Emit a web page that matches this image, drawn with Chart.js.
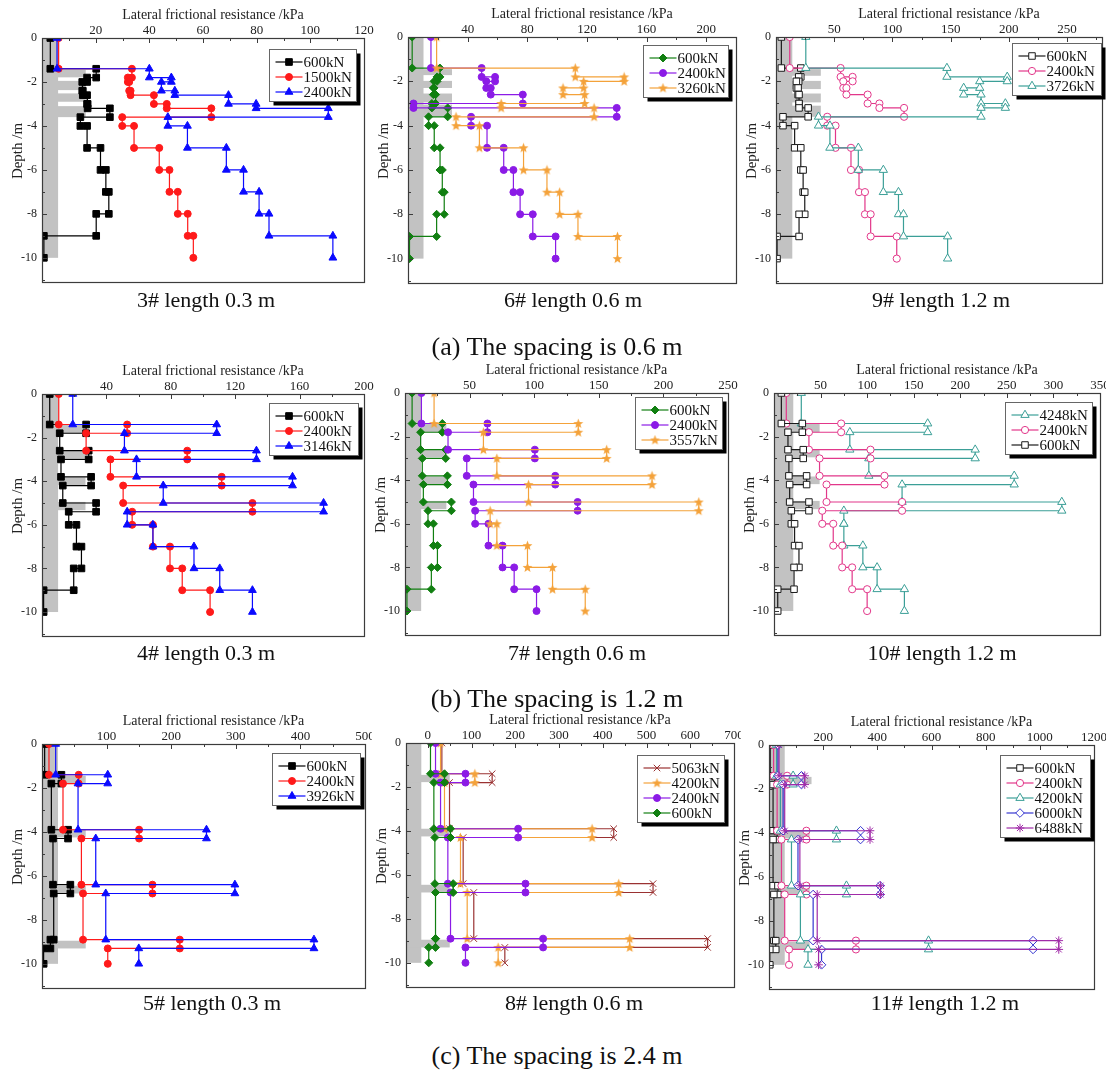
<!DOCTYPE html>
<html>
<head>
<meta charset="utf-8">
<title>Lateral frictional resistance profiles</title>
<script src="https://cdn.jsdelivr.net/npm/chart.js@4.4.1/dist/chart.umd.min.js"></script>
<style>
  html, body { margin: 0; padding: 0; background: #fff; }
  #page { position: relative; width: 1106px; height: 1077px; overflow: hidden; background: #fff;
          font-family: 'Liberation Serif', 'Times New Roman', serif; color: #111; }
  .panel { position: absolute; overflow: hidden; }
  .panel canvas { display: block; }
  .cap { position: absolute; width: 400px; text-align: center; line-height: 1; white-space: nowrap; }
</style>
</head>
<body>
<div id="page"></div>
<script>
const SERIF = "'Liberation Serif', 'Times New Roman', serif";

// depth breakpoints (m) of the measured layers
const D_A1 = [0, -1.4, -1.8, -2.0, -2.4, -2.6, -3.0, -3.2, -3.6, -4, -5, -6, -7, -8, -9, -10];
const D_A23 = [0, -1.4, -1.8, -2.0, -2.3, -2.6, -3.0, -3.2, -3.6, -4, -5, -6, -7, -8, -9, -10];
const D_B = [0, -1.4, -1.8, -2.6, -3.0, -3.8, -4.2, -5.0, -5.4, -6, -7, -8, -9, -10];
const D_C = [0, -1.4, -1.8, -3.9, -4.3, -6.4, -6.8, -8.9, -9.3, -10];

// lateral frictional resistance per layer (kPa)
// (a) spacing 0.6 m
const PILE3_600 = [3.1, 20.2, 16.8, 15.0, 15.2, 16.8, 17.0, 25.3, 14.3, 16.8, 21.8, 23.8, 24.9, 20.2, 0.7];
const PILE3_1500 = [6.2, 33.5, 32.0, 32.5, 33.0, 41.7, 46.5, 63.1, 29.9, 34.3, 43.7, 47.5, 50.6, 54.3, 56.4];
const PILE3_2400 = [5.6, 40.0, 48.2, 44.5, 49.5, 69.5, 79.8, 106.7, 46.9, 54.2, 68.7, 75.1, 80.9, 84.6, 108.4];

const PILE6_600 = [2.8, 21.4, 19.5, 17.5, 17.0, 18.5, 16.0, 26.6, 13.8, 17.6, 21.5, 23.0, 24.3, 19.2, 1.0];
const PILE6_2400 = [15.4, 49.4, 58.4, 52.5, 55.5, 77.0, 3.7, 140.0, 42.3, 53.0, 64.2, 70.7, 75.2, 83.7, 99.0];
const PILE6_3260 = [19.2, 112.2, 145.0, 117.8, 104.0, 118.5, 62.5, 124.8, 32.2, 47.9, 77.5, 93.2, 101.7, 114.0, 140.5];

const PILE9_600 = [4.6, 21.3, 19.5, 17.5, 19.0, 19.8, 19.8, 27.6, 6.0, 16.0, 21.3, 23.3, 24.7, 19.8, 0.9];
const PILE9_2400 = [11.8, 55.5, 65.8, 57.8, 60.5, 78.7, 88.8, 110.0, 44.0, 51.1, 64.4, 71.3, 76.4, 81.3, 103.7];
const PILE9_3726 = [25.6, 146.8, 198.6, 175.0, 161.2, 176.1, 197.0, 176.1, 36.5, 46.3, 70.7, 92.2, 105.2, 109.5, 147.4];

// (b) spacing 1.2 m
const PILE4_600 = [4.8, 27.4, 11.0, 29.0, 11.8, 30.5, 12.9, 33.6, 16.6, 21.4, 24.5, 19.7, 1.0];
const PILE4_2400 = [10.4, 52.9, 27.4, 90.2, 42.5, 111.6, 50.4, 130.7, 56.0, 68.9, 79.5, 87.1, 104.4];
const PILE4_3146 = [19.1, 108.5, 51.2, 133.2, 58.7, 155.6, 75.3, 174.9, 52.9, 68.9, 94.4, 110.4, 130.7];

const PILE7_600 = [5.5, 28.9, 12.1, 31.5, 13.4, 32.8, 14.2, 35.9, 17.8, 22.0, 25.1, 20.4, 1.5];
const PILE7_2400 = [12.7, 63.8, 33.3, 100.5, 47.8, 116.3, 53.0, 133.6, 54.3, 64.6, 75.5, 84.5, 101.8];
const PILE7_3557 = [22.5, 134.1, 60.7, 156.1, 71.1, 191.2, 95.6, 227.4, 65.9, 71.1, 94.8, 114.2, 139.5];

const PILE10_4248 = [29.3, 165.0, 81.4, 216.0, 101.8, 257.9, 137.5, 309.0, 75.0, 75.0, 95.4, 110.7, 140.0];
const PILE10_2400 = [13.2, 72.1, 37.5, 103.6, 48.9, 118.6, 56.4, 137.5, 51.8, 63.6, 73.2, 83.9, 100.0];
const PILE10_600 = [7.9, 30.4, 15.0, 31.4, 16.0, 35.0, 16.8, 37.5, 18.6, 22.1, 26.8, 21.5, 4.0];

// (c) spacing 2.4 m
const PILE5_600 = [4.1, 30.0, 14.5, 40.3, 17.0, 43.9, 18.1, 13.0, 2.5];
const PILE5_2400 = [10.8, 56.8, 32.5, 150.3, 61.0, 171.0, 63.5, 213.3, 101.8];
const PILE5_3926 = [21.2, 101.8, 55.8, 254.6, 83.2, 298.6, 98.7, 421.0, 149.8];

const PILE8_5063 = [32.0, 147.0, 49.5, 425.0, 80.7, 514.9, 105.0, 639.7, 176.0];
const PILE8_4200 = [29.0, 107.4, 38.0, 375.5, 74.6, 436.4, 89.9, 461.5, 160.7];
const PILE8_2400 = [17.5, 86.0, 29.0, 206.4, 45.7, 223.2, 51.8, 263.5, 86.0];
const PILE8_600 = [6.0, 38.0, 13.7, 51.8, 16.0, 57.9, 17.5, 17.5, 2.0];

const PILE11_600 = [4.5, 21.0, 15.0, 30.0, 15.0, 33.0, 18.0, 25.0, 3.0];
const PILE11_2400 = [17.0, 67.0, 30.0, 138.0, 46.0, 138.0, 58.0, 321.0, 74.0];
const PILE11_4200 = [28.0, 89.0, 42.0, 249.0, 83.0, 286.0, 116.0, 589.0, 144.0];
const PILE11_6000 = [33.0, 120.0, 52.0, 338.0, 107.0, 410.0, 163.0, 975.0, 194.0];
const PILE11_6488 = [37.0, 132.0, 58.0, 373.0, 114.0, 412.0, 178.0, 1070.0, 183.0];

// pile body shading: [x from, x to, depth top, depth bottom]
const PILE3_SHADE = [[0, 6, 0, -10], [0, 16.3, -1.45, -1.79], [0, 16.3, -1.95, -2.37], [0, 16.3, -2.52, -2.9], [0, 16.3, -3.1, -3.6]];
const PILE6_SHADE = [[0, 10.4, 0, -10], [0, 29.5, -1.45, -1.72], [0, 29.5, -1.98, -2.3], [0, 29.5, -2.55, -2.95], [0, 29.5, -3.05, -3.6]];
const PILE9_SHADE = [[0, 14, 0, -10], [0, 38.5, -1.45, -1.75], [0, 38.5, -1.98, -2.35], [0, 38.5, -2.55, -2.95], [0, 38.5, -3.1, -3.6]];
const PILE4_SHADE = [[0, 10, 0, -10], [0, 27, -1.42, -1.8], [0, 27, -2.57, -2.95], [0, 27, -3.83, -4.18], [0, 27, -4.95, -5.33]];
const PILE7_SHADE = [[0, 12.5, 0, -10], [0, 32, -1.42, -1.8], [0, 32, -2.57, -2.95], [0, 32, -3.83, -4.18], [0, 32, -4.95, -5.33]];
const PILE10_SHADE = [[0, 20.7, 0, -10], [0, 49, -1.42, -1.8], [0, 49, -2.57, -2.95], [0, 49, -3.83, -4.18], [0, 49, -4.95, -5.33]];
const PILE5_SHADE = [[0, 24.8, 0, -10], [0, 67.7, -1.45, -1.78], [0, 67.7, -3.9, -4.25], [0, 67.7, -6.45, -6.8], [0, 67.7, -8.95, -9.3]];
const PILE8_SHADE = [[-50, -15, 0, -10], [-50, 50, -1.45, -1.78], [-50, 50, -3.9, -4.25], [-50, 50, -6.45, -6.8], [-50, 50, -8.95, -9.3]];
const PILE11_SHADE = [[0, 58, 0, -10], [0, 157, -1.45, -1.78], [0, 150, -3.9, -4.25], [0, 150, -6.45, -6.8], [0, 150, -8.95, -9.3]];

const X_TITLE = 'Lateral frictional resistance /kPa';
const Y_TITLE = 'Depth /m';
const Y_MIN = -11.1;
const PAD_L = 42, PAD_T = 40, PAD_R = 16, PAD_B = 14;

function makeStar(color) {
  const c = document.createElement('canvas');
  c.width = 11; c.height = 11;
  const g = c.getContext('2d');
  g.fillStyle = color;
  g.beginPath();
  for (let i = 0; i < 10; i++) {
    const r = i % 2 ? 2.2 : 5.2;
    const a = -Math.PI / 2 + i * Math.PI / 5;
    g.lineTo(5.5 + r * Math.cos(a), 5.8 + r * Math.sin(a));
  }
  g.closePath();
  g.fill();
  return c;
}

const ORANGE = '#f4a23a';
const MK = {
  blackSq: { color: '#000000', style: 'rect', r: 4.7 },
  redDot: { color: '#ff1a1a', style: 'circle', r: 3.5 },
  blueTri: { color: '#0a0aff', style: 'triangle', r: 4.5 },
  greenDia: { color: '#117f11', style: 'rectRot', r: 4.0 },
  violetDot: { color: '#8b1be6', style: 'circle', r: 3.5 },
  orangeStar: { color: ORANGE, style: makeStar(ORANGE), r: 5 },
  blackSqO: { color: '#1a1a1a', style: 'rect', r: 4.6, open: true },
  pinkDotO: { color: '#e2378a', style: 'circle', r: 3.6, open: true },
  tealTriO: { color: '#3b9f97', style: 'triangle', r: 4.8, open: true },
  blueDiaO: { color: '#3636d0', style: 'rectRot', r: 4.3, open: true },
  magStar: { color: '#a02ba8', style: 'star', r: 4.3 },
  brownX: { color: '#9a3232', style: 'crossRot', r: 4.6 },
};

const PANELS = [
  { box: [42, 38, 364, 282], xMin: 0, xMax: 120, xStep: 20, depths: D_A1, shade: PILE3_SHADE, legend: [8, 11, 87],
    series: [['600kN', PILE3_600, MK.blackSq], ['1500kN', PILE3_1500, MK.redDot], ['2400kN', PILE3_2400, MK.blueTri]] },
  { box: [408, 37, 736, 283], xMin: 0, xMax: 220, xStep: 40, depths: D_A23, shade: PILE6_SHADE, legend: [8, 8, 85],
    series: [['600kN', PILE6_600, MK.greenDia], ['2400kN', PILE6_2400, MK.violetDot], ['3260kN', PILE6_3260, MK.orangeStar]] },
  { box: [776, 37, 1102, 283], xMin: 0, xMax: 280, xStep: 50, depths: D_A23, shade: PILE9_SHADE, legend: [1, 6, 89],
    series: [['600kN', PILE9_600, MK.blackSqO], ['2400kN', PILE9_2400, MK.pinkDotO], ['3726kN', PILE9_3726, MK.tealTriO]] },
  { box: [42, 394, 364, 636], xMin: 0, xMax: 200, xStep: 40, depths: D_B, shade: PILE4_SHADE, legend: [6, 9, 89],
    series: [['600kN', PILE4_600, MK.blackSq], ['2400kN', PILE4_2400, MK.redDot], ['3146kN', PILE4_3146, MK.blueTri]] },
  { box: [405, 393, 728, 635], xMin: 0, xMax: 250, xStep: 50, depths: D_B, shade: PILE7_SHADE, legend: [6, 4, 87],
    series: [['600kN', PILE7_600, MK.greenDia], ['2400kN', PILE7_2400, MK.violetDot], ['3557kN', PILE7_3557, MK.orangeStar]] },
  { box: [774, 393, 1100, 635], xMin: 0, xMax: 350, xStep: 50, depths: D_B, shade: PILE10_SHADE, legend: [8, 9, 87],
    series: [['4248kN', PILE10_4248, MK.tealTriO], ['2400kN', PILE10_2400, MK.pinkDotO], ['600kN', PILE10_600, MK.blackSqO]] },
  { box: [42, 744, 365, 988], xMin: 0, xMax: 500, xStep: 100, depths: D_C, shade: PILE5_SHADE, legend: [5, 9, 88], clip: 372,
    series: [['600kN', PILE5_600, MK.blackSq], ['2400kN', PILE5_2400, MK.redDot], ['3926kN', PILE5_3926, MK.blueTri]] },
  { box: [406, 743, 734, 987], xMin: -50, xMax: 700, xStep: 100, depths: D_C, shade: PILE8_SHADE, legend: [10, 12, 87], clip: 741,
    series: [['5063kN', PILE8_5063, MK.brownX], ['4200kN', PILE8_4200, MK.orangeStar], ['2400kN', PILE8_2400, MK.violetDot], ['600kN', PILE8_600, MK.greenDia]] },
  { box: [769, 745, 1094, 989], xMin: 0, xMax: 1200, xStep: 200, depths: D_C, shade: PILE11_SHADE, legend: [4, 10, 90],
    series: [['600kN', PILE11_600, MK.blackSqO], ['2400kN', PILE11_2400, MK.pinkDotO], ['4200kN', PILE11_4200, MK.tealTriO], ['6000kN', PILE11_6000, MK.blueDiaO], ['6488kN', PILE11_6488, MK.magStar]] },
];

const CAPTIONS = [
  ['3# length 0.3 m', 206, 307.5], ['6# length 0.6 m', 573, 307.5], ['9# length 1.2 m', 941, 307.5],
  ['4# length 0.3 m', 206, 660], ['7# length 0.6 m', 577, 660], ['10# length 1.2 m', 942, 660],
  ['5# length 0.3 m', 212, 1010], ['8# length 0.6 m', 574, 1010], ['11# length 1.2 m', 945, 1010],
];
const FIG_CAPTIONS = [
  ['(a) The spacing is 0.6 m', 557, 356], ['(b) The spacing is 1.2 m', 557, 708], ['(c) The spacing is 2.4 m', 557, 1065],
];

// step profile: each layer value spans its top and bottom depth
function profile(depths, q) {
  const pts = [];
  q.forEach((v, i) => {
    pts.push({ x: v, y: depths[i] }, { x: v, y: depths[i + 1] });
  });
  return pts;
}

function drawMarker(ctx, m, x, y) {
  ctx.save();
  ctx.fillStyle = m.open ? '#fff' : m.color;
  ctx.strokeStyle = m.color;
  ctx.lineWidth = 1;
  if (Chart.helpers && Chart.helpers.drawPoint) {
    Chart.helpers.drawPoint(ctx, { pointStyle: m.style, radius: m.r, rotation: 0, borderWidth: 1 }, x, y);
  } else {
    ctx.beginPath(); ctx.arc(x, y, m.r, 0, Math.PI * 2); ctx.fill(); ctx.stroke();
  }
  ctx.restore();
}

function panelPlugin(p) {
  return {
    id: 'panelDecor',
    beforeDatasetsDraw(chart) {
      const { ctx, chartArea: a, scales: { x, y } } = chart;
      ctx.save();
      ctx.beginPath();
      ctx.rect(a.left, a.top, a.right - a.left, a.bottom - a.top);
      ctx.clip();
      ctx.fillStyle = '#c2c2c2';
      p.shade.forEach(([x0, x1, d0, d1]) => {
        const px0 = x.getPixelForValue(x0), px1 = x.getPixelForValue(x1);
        const py0 = y.getPixelForValue(d0), py1 = y.getPixelForValue(d1);
        ctx.fillRect(px0, py0, px1 - px0, py1 - py0);
      });
      ctx.restore();
    },
    afterDraw(chart) {
      const { ctx, chartArea: a, scales: { x, y } } = chart;
      ctx.save();
      // axis titles (the top one sits a little right of centre, as in the source)
      ctx.fillStyle = '#222';
      ctx.textAlign = 'center';
      ctx.textBaseline = 'middle';
      ctx.font = `14px ${SERIF}`;
      ctx.fillText(X_TITLE, (a.left + a.right) / 2 + 10, a.top - 23);
      ctx.save();
      ctx.translate(a.left - 24, (a.top + a.bottom) / 2 - 9);
      ctx.rotate(-Math.PI / 2);
      ctx.font = `15px ${SERIF}`;
      ctx.fillText(Y_TITLE, 0, 0);
      ctx.restore();

      // frame
      ctx.strokeStyle = '#3c3c3c';
      ctx.lineWidth = 1.2;
      ctx.strokeRect(a.left + 0.5, a.top + 0.5, a.right - a.left, a.bottom - a.top);
      // inward ticks, major and minor
      ctx.lineWidth = 1;
      ctx.beginPath();
      const half = p.xStep / 2;
      for (let v = Math.ceil(p.xMin / half) * half; v < p.xMax; v += half) {
        if (v <= p.xMin) continue;
        const major = Math.abs(v / p.xStep - Math.round(v / p.xStep)) < 1e-6;
        const px = Math.round(x.getPixelForValue(v)) + 0.5;
        ctx.moveTo(px, a.top);
        ctx.lineTo(px, a.top + (major ? 5 : 3));
      }
      for (let d = -1; d > Y_MIN; d -= 1) {
        const py = Math.round(y.getPixelForValue(d)) + 0.5;
        ctx.moveTo(a.left, py);
        ctx.lineTo(a.left + (d % 2 === 0 ? 5 : 3), py);
      }
      ctx.stroke();

      // legend box with drop shadow
      const [dx, dy, w] = p.legend;
      const n = p.series.length;
      const h = 22 + (n - 1) * 15;
      const bx = Math.round(a.right - dx - w) + 0.5;
      const by = Math.round(a.top + dy) + 0.5;
      ctx.fillStyle = '#000';
      ctx.fillRect(bx + 4, by + 4, w, h);
      ctx.fillStyle = '#fff';
      ctx.fillRect(bx, by, w, h);
      ctx.strokeStyle = '#666';
      ctx.strokeRect(bx, by, w, h);
      ctx.font = `15px ${SERIF}`;
      ctx.textBaseline = 'middle';
      ctx.textAlign = 'left';
      p.series.forEach(([label, , m], i) => {
        const cy = by + 12.5 + i * 15;
        ctx.strokeStyle = m.color;
        ctx.lineWidth = 1.2;
        ctx.beginPath();
        ctx.moveTo(bx + 6, cy);
        ctx.lineTo(bx + 33, cy);
        ctx.stroke();
        drawMarker(ctx, m, bx + 19.5, cy);
        ctx.fillStyle = '#111';
        ctx.fillText(label, bx + 34, cy + 1);
      });
      ctx.restore();
    },
  };
}

const page = document.getElementById('page');

PANELS.forEach(p => {
  const [L, T, R, B] = p.box;
  const left = L - PAD_L, top = T - PAD_T;
  const w = R - L + PAD_L + PAD_R, h = B - T + PAD_T + PAD_B;
  const wrap = document.createElement('div');
  wrap.className = 'panel';
  wrap.style.left = left + 'px';
  wrap.style.top = top + 'px';
  wrap.style.width = (p.clip ? p.clip - left : w) + 'px';
  wrap.style.height = h + 'px';
  const cv = document.createElement('canvas');
  cv.width = w; cv.height = h;
  cv.style.width = w + 'px'; cv.style.height = h + 'px';
  wrap.appendChild(cv);
  page.appendChild(wrap);

  new Chart(cv.getContext('2d'), {
    type: 'scatter',
    data: {
      datasets: p.series.map(([label, q, m]) => ({
        label,
        data: profile(p.depths, q),
        showLine: true,
        tension: 0,
        borderColor: m.color,
        borderWidth: 1.2,
        pointStyle: m.style,
        pointRadius: m.r,
        pointHoverRadius: m.r,
        pointBackgroundColor: m.open ? '#fff' : m.color,
        pointBorderColor: m.color,
        pointBorderWidth: 1,
      })).reverse(),
    },
    options: {
      responsive: false,
      animation: false,
      devicePixelRatio: 1,
      events: [],
      layout: { padding: { left: 0, top: 0, right: PAD_R, bottom: PAD_B } },
      plugins: { legend: { display: false }, tooltip: { enabled: false } },
      scales: {
        x: {
          type: 'linear',
          position: 'top',
          min: p.xMin,
          max: p.xMax,
          afterFit(s) { s.height = PAD_T; },
          grid: { display: false, drawTicks: false },
          border: { display: false },
          ticks: {
            stepSize: p.xStep,
            includeBounds: false,
            autoSkip: false,
            maxRotation: 0,
            padding: 1,
            color: '#222',
            font: { family: SERIF, size: 13, lineHeight: 1 },
            callback(v) { return v === 0 && this.min === 0 ? '' : v; },
          },
        },
        y: {
          type: 'linear',
          position: 'left',
          min: Y_MIN,
          max: 0,
          afterFit(s) { s.width = PAD_L; },
          grid: { display: false, drawTicks: false },
          border: { display: false },
          ticks: {
            stepSize: 2,
            includeBounds: false,
            autoSkip: false,
            padding: 5,
            color: '#222',
            font: { family: SERIF, size: 12 },
            callback(v) { return v; },
          },
        },
      },
    },
    plugins: [panelPlugin(p)],
  });
});

// captions: baseline = top + 0.8375 * font size for Liberation Serif with line-height 1
function addCaption(text, cx, baseline, size) {
  const d = document.createElement('div');
  d.className = 'cap';
  d.style.fontSize = size + 'px';
  d.style.left = (cx - 200) + 'px';
  d.style.top = (baseline - 0.8375 * size) + 'px';
  d.textContent = text;
  page.appendChild(d);
}
CAPTIONS.forEach(([t, cx, b]) => addCaption(t, cx, b, 22));
FIG_CAPTIONS.forEach(([t, cx, b]) => addCaption(t, cx, b, 26));
</script>
</body>
</html>
